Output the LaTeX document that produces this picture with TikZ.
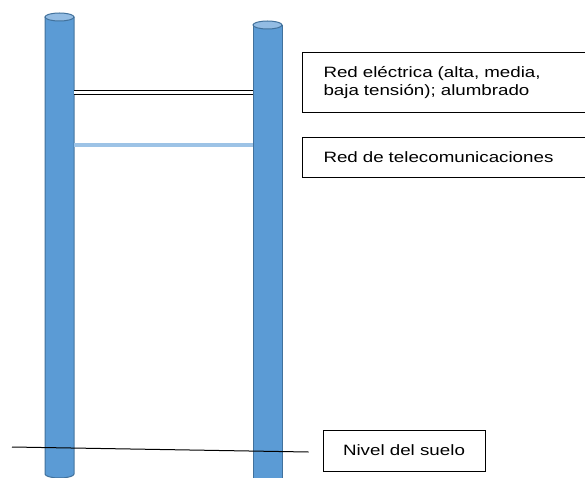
\documentclass[tikz,border=0pt]{standalone}
\usepackage{fontspec}
\setmainfont{Liberation Sans}
\newfontfamily\etiqueta[FakeStretch=1.25]{Liberation Sans}
\usepackage{tikz}
\usetikzlibrary{calc}
\usetikzlibrary{positioning}

\definecolor{postefill}{HTML}{5B9BD5}
\definecolor{postedraw}{HTML}{41719C}
\definecolor{postetop}{HTML}{93BCE3}
\definecolor{telecom}{HTML}{9DC3E6}

\begin{document}
\begin{tikzpicture}[x=1pt, y=-1pt]
        % Define styles for shapes
        \tikzstyle{caja} = [draw, line width=1pt, anchor=north west, minimum width=288pt, text width=246pt, inner xsep=21pt, align=left, font=\etiqueta\fontsize{15}{17.5}\selectfont]
        \tikzstyle{poste} = [draw=postedraw, line width=1pt]
        \tikzstyle{electrica} = [draw=black, line width=1.2pt, double=white, double distance=2.4pt]
        \tikzstyle{teleco} = [draw=telecom, line width=3.5pt]
        \useasboundingbox (0,0) rectangle (585,478);

        % Draw poles
        \fill[postefill] (45,17) rectangle (74,474);
        \fill[postefill] (59.5,474) ellipse [x radius=14.5, y radius=4];
        \draw[poste] (45,17) -- (45,474) arc [start angle=180, end angle=0, x radius=14.5, y radius=4] -- (74,17);
        \draw[poste, fill=postetop] (59.5,17) ellipse [x radius=14.5, y radius=4];

        \fill[postefill] (253,25) rectangle (282,484);
        \draw[poste] (253,484) -- (253,25);
        \draw[poste] (282,484) -- (282,25);
        \draw[poste, fill=postetop] (267.5,25) ellipse [x radius=14.5, y radius=4];

        % Cable ends
        \coordinate (izqA) at (74,92.5);
        \coordinate (derA) at (253,92.5);
        \coordinate (izqB) at (74,145);
        \coordinate (derB) at (253,145);
        \coordinate (suelo) at (12,447);

        % Draw boxes
        \node[caja, minimum height=60pt] (red) at (302,52) {
                Red eléctrica (alta, media,\\
                baja tensión); alumbrado
        };
        \node[caja, minimum height=40pt] (tele) at (302,137) {
                Red de telecomunicaciones
        };
        \node[draw, line width=1pt, minimum width=162pt, minimum height=41pt, font=\etiqueta\fontsize{15}{17.5}\selectfont] (nivel) at (404,450.5) {Nivel del suelo};

        % Draw lines
        \draw[electrica] (izqA) -- (derA);
        \draw[teleco] (izqB) -- (derB);
        \draw[line width=1pt] (suelo) -- ([xshift=-14pt, yshift=-1.5pt]nivel.west);
    \end{tikzpicture}
\end{document}
